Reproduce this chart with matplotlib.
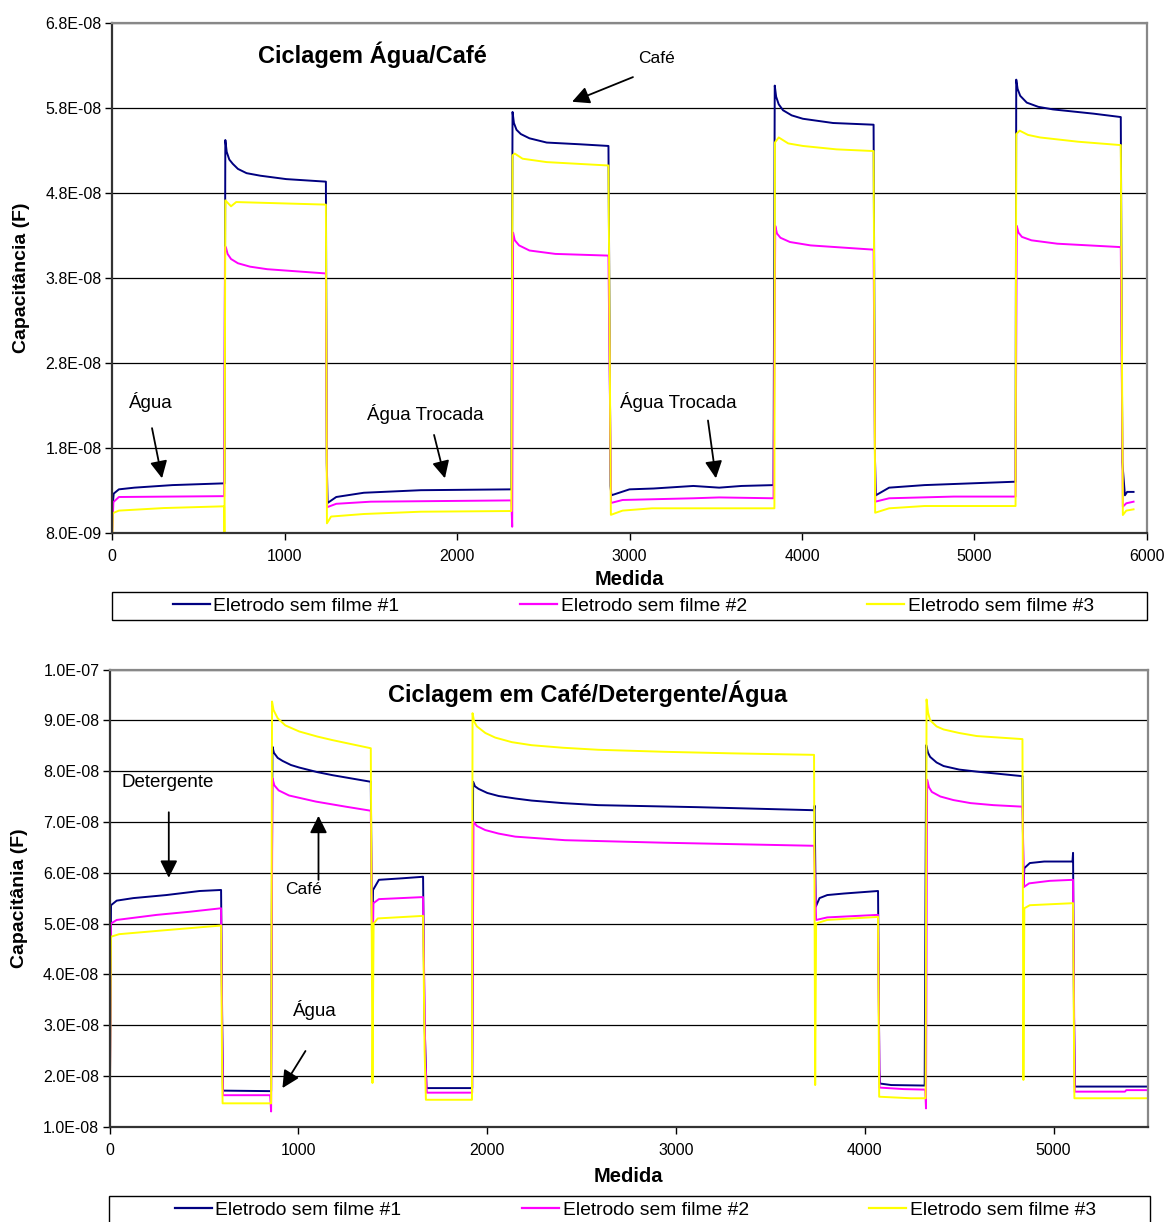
import matplotlib
matplotlib.use("Agg")
import matplotlib.pyplot as plt
from matplotlib.patches import Rectangle
from matplotlib.lines import Line2D
from matplotlib.ticker import FuncFormatter, MultipleLocator
import numpy as np

plt.rcParams['font.family'] = ['Liberation Sans', 'DejaVu Sans']

# ---------------- DATA (values in units of 1e-8 F) ----------------
series_labels = ["Eletrodo sem filme #1", "Eletrodo sem filme #2", "Eletrodo sem filme #3"]
series_colors = ["#000080", "#FF00FF", "#FFFF00"]

# Top panel: Ciclagem Água/Café
top_x1 = [0, 10, 40, 130, 350, 640, 652,
          657, 665, 680, 700, 730, 780, 860, 1010, 1240,
          1245, 1250, 1300, 1460, 1790, 2315,
          2322, 2330, 2345, 2370, 2420, 2520, 2710, 2878,
          2890, 2895, 3000, 3140, 3370, 3520, 3650, 3835,
          3842, 3850, 3865, 3890, 3940, 4005, 4180, 4415,
          4423, 4428, 4505, 4710, 5238,
          5242, 5250, 5265, 5303, 5370, 5455, 5690, 5848,
          5857, 5872, 5885, 5922]
top_y1 = [1.05, 1.26, 1.31, 1.33, 1.36, 1.38, 1.38,
          5.42, 5.28, 5.19, 5.14, 5.08, 5.03, 5.00, 4.96, 4.93,
          1.62, 1.15, 1.22, 1.27, 1.30, 1.31,
          5.75, 5.62, 5.54, 5.49, 5.44, 5.39, 5.37, 5.35,
          1.35, 1.24, 1.31, 1.32, 1.35, 1.33, 1.35, 1.36,
          6.06, 5.93, 5.84, 5.77, 5.71, 5.67, 5.62, 5.60,
          1.67, 1.24, 1.33, 1.36, 1.40,
          6.13, 6.02, 5.94, 5.86, 5.81, 5.78, 5.73, 5.69,
          1.63, 1.24, 1.28, 1.28]

top_x2 = [0, 8, 40, 650,
          655, 660, 670, 690, 730, 800, 900, 1240,
          1247, 1300, 1500, 2315, 2320,
          2325, 2335, 2360, 2420, 2570, 2878,
          2893, 2960, 3370, 3520, 3835,
          3845, 3855, 3875, 3930, 4050, 4415,
          4425, 4505, 4880, 5238,
          5245, 5255, 5275, 5330, 5480, 5848,
          5860, 5880, 5922]
top_y2 = [0.75, 1.16, 1.22, 1.23,
          4.16, 4.16, 4.08, 4.02, 3.97, 3.93, 3.90, 3.85,
          1.10, 1.14, 1.165, 1.18, 0.87,
          4.33, 4.24, 4.18, 4.12, 4.08, 4.06,
          1.15, 1.185, 1.205, 1.215, 1.205,
          4.41, 4.32, 4.27, 4.22, 4.18, 4.13,
          1.165, 1.205, 1.225, 1.225,
          4.41, 4.33, 4.28, 4.24, 4.20, 4.16,
          1.106, 1.146, 1.165]

top_x3 = [0, 5, 40, 300, 640, 650, 652,
          657, 690, 720, 1240,
          1246, 1270, 1460, 1790, 2315,
          2322, 2335, 2380, 2520, 2878,
          2892, 2960, 3130, 3840,
          3843, 3865, 3920, 4005, 4200, 4415,
          4424, 4505, 4710, 5238,
          5242, 5262, 5310, 5380, 5600, 5848,
          5860, 5880, 5922]
top_y3 = [0.60, 1.03, 1.06, 1.09, 1.11, 1.11, 0.70,
          4.71, 4.64, 4.69, 4.66,
          0.91, 0.99, 1.02, 1.047, 1.055,
          5.24, 5.26, 5.20, 5.16, 5.12,
          1.01, 1.06, 1.087, 1.087,
          5.39, 5.45, 5.38, 5.35, 5.31, 5.29,
          1.035, 1.087, 1.114, 1.114,
          5.49, 5.53, 5.48, 5.45, 5.40, 5.36,
          1.008, 1.06, 1.075]

# Bottom panel: Ciclagem em Café/Detergente/Água
bot_x1 = [0, 7, 37, 125, 300, 477, 590, 596, 600, 855,
          862, 870, 890, 916, 960, 1004, 1100, 1180, 1383,
          1390, 1395, 1426, 1550, 1660,
          1667, 1672, 1678, 1920,
          1925, 1935, 1954, 2000, 2060, 2150, 2235, 2400, 2587, 3115, 3731, 3734,
          3740, 3760, 3801, 3889, 4070,
          4077, 4080, 4140, 4317,
          4325, 4335, 4346, 4380, 4417, 4500, 4593, 4835,
          4840, 4845, 4874, 4950, 5100, 5103,
          5108, 5113, 5500]
bot_y1 = [1.0, 5.36, 5.45, 5.50, 5.56, 5.64, 5.66, 3.00, 1.71, 1.70,
          8.48, 8.36, 8.26, 8.20, 8.12, 8.07, 7.98, 7.92, 7.79,
          4.50, 5.66, 5.86, 5.89, 5.92,
          3.17, 2.51, 1.76, 1.76,
          7.79, 7.70, 7.65, 7.57, 7.51, 7.46, 7.42, 7.37, 7.33, 7.29, 7.23, 7.32,
          5.33, 5.50, 5.56, 5.59, 5.64,
          2.12, 1.85, 1.82, 1.81,
          8.51, 8.36, 8.28, 8.17, 8.10, 8.03, 7.99, 7.90,
          5.72, 6.09, 6.19, 6.22, 6.22, 6.39,
          3.20, 1.79, 1.79]

bot_x2 = [0, 7, 37, 250, 420, 590, 596, 600, 850, 855,
          862, 872, 895, 950, 1092, 1250, 1383,
          1392, 1397, 1426, 1660,
          1672, 1680, 1920,
          1927, 1945, 1989, 2060, 2148, 2412, 2939, 3731,
          3742, 3801, 4070,
          4078, 4207, 4320, 4324,
          4330, 4340, 4355, 4400, 4469, 4560, 4681, 4835,
          4843, 4870, 4980, 5103,
          5112, 5378, 5385, 5500]
bot_y2 = [1.0, 5.00, 5.07, 5.17, 5.23, 5.30, 2.80, 1.62, 1.62, 1.30,
          7.86, 7.72, 7.62, 7.52, 7.40, 7.30, 7.22,
          4.22, 5.40, 5.48, 5.52,
          2.30, 1.67, 1.67,
          7.00, 6.92, 6.84, 6.77, 6.71, 6.64, 6.59, 6.53,
          5.07, 5.12, 5.17,
          1.77, 1.74, 1.73, 1.36,
          7.83, 7.68, 7.59, 7.50, 7.43, 7.37, 7.33, 7.30,
          5.72, 5.79, 5.84, 5.86,
          1.69, 1.69, 1.72, 1.72]

bot_x3 = [0, 7, 50, 300, 590, 595, 598, 855,
          860, 868, 890, 930, 1004, 1100, 1180, 1383,
          1392, 1398, 1420, 1660,
          1668, 1675, 1919,
          1922, 1930, 1945, 1990, 2042, 2130, 2235, 2400, 2587, 2939, 3291, 3731,
          3737, 3742, 3801, 4070,
          4076, 4244, 4322,
          4327, 4335, 4346, 4380, 4417, 4500, 4593, 4835,
          4840, 4845, 4874, 5103,
          5110, 5500]
bot_y3 = [1.0, 4.74, 4.79, 4.87, 4.96, 2.30, 1.46, 1.46,
          9.37, 9.20, 9.04, 8.90, 8.78, 8.68, 8.61, 8.45,
          1.86, 5.00, 5.10, 5.15,
          2.50, 1.53, 1.53,
          9.14, 8.98, 8.88, 8.75, 8.66, 8.57, 8.51, 8.46, 8.42, 8.38, 8.35, 8.32,
          1.82, 5.00, 5.07, 5.13,
          1.59, 1.56, 1.56,
          9.41, 9.15, 9.00, 8.88, 8.82, 8.75, 8.69, 8.63,
          1.92, 5.30, 5.36, 5.40,
          1.56, 1.56]

top_title = "Ciclagem Água/Café"
bot_title = "Ciclagem em Café/Detergente/Água"
top_ylabel = "Capacitância (F)"
bot_ylabel = "Capacitânia (F)"
xlabel = "Medida"

# ---------------- FIGURE ----------------
W, H = 1166, 1222
fig = plt.figure(figsize=(W / 100, H / 100), dpi=100)

def fx(px):
    return px / W

def fy(py):
    return 1 - py / H

ax1 = fig.add_axes([fx(112), fy(532.7), fx(1147) - fx(112), fy(22.7) - fy(532.7)])
ax2 = fig.add_axes([fx(109.7), fy(1126.7), fx(1148) - fx(109.7), fy(669.5) - fy(1126.7)])

E8 = 1e-8
sci = FuncFormatter(lambda v, p: format(v, '.1E'))

def style(ax, ymin, ymax, xmax):
    ax.set_ylim(ymin, ymax)
    ax.set_xlim(0, xmax)
    ax.yaxis.set_major_locator(MultipleLocator(1e-8))
    ax.yaxis.set_major_formatter(sci)
    ax.xaxis.set_major_locator(MultipleLocator(1000))
    ax.grid(axis='y', color='black', lw=0.9)
    ax.set_axisbelow(True)
    for s in ['left', 'bottom']:
        ax.spines[s].set_color('#333333')
        ax.spines[s].set_linewidth(1.6)
    for s in ['top', 'right']:
        ax.spines[s].set_color('#888888')
        ax.spines[s].set_linewidth(1.6)
    ax.tick_params(axis='both', direction='out', length=5, width=1, labelsize=11.5)
    ax.tick_params(axis='x', pad=7)
    ax.tick_params(axis='y', pad=2.5)

style(ax1, 0.8 * E8, 6.8 * E8 + 1e-12, 6000)
ax1.set_yticks([(0.8 + k) * E8 for k in range(7)])
style(ax2, 1.0 * E8, 10.0 * E8 + 1e-12, 5500)

lw = 1.4
for xs, ys, c in [(top_x1, top_y1, series_colors[0]), (top_x2, top_y2, series_colors[1]), (top_x3, top_y3, series_colors[2])]:
    ax1.plot(xs, np.array(ys) * E8, color=c, lw=lw)
for xs, ys, c in [(bot_x1, bot_y1, series_colors[0]), (bot_x2, bot_y2, series_colors[1]), (bot_x3, bot_y3, series_colors[2])]:
    ax2.plot(xs, np.array(ys) * E8, color=c, lw=lw)

# labels
for ax, yl, yx, xy in [(ax1, top_ylabel, -0.079, -0.073), (ax2, bot_ylabel, -0.0787, -0.088)]:
    ax.set_ylabel(yl, fontsize=14, fontweight='bold')
    ax.yaxis.set_label_coords(yx, 0.5)
    ax.set_xlabel(xlabel, fontsize=14.5, fontweight='bold')
    ax.xaxis.set_label_coords(0.5, xy)

# titles
ax1.text(1507, 6.42 * E8, top_title, fontsize=17, fontweight='bold', ha='center', va='center')
ax2.text(2529, 9.52 * E8, bot_title, fontsize=17, fontweight='bold', ha='center', va='center')

arrow = dict(arrowstyle='-|>', mutation_scale=26, lw=1.3, color='black', shrinkA=0, shrinkB=0)

# top annotations
ax1.text(3154, 6.38 * E8, "Café", fontsize=12.5, ha='center', va='center')
ax1.annotate("", xy=(2667, 5.87 * E8), xytext=(3020, 6.16 * E8), arrowprops=arrow)
ax1.text(226, 2.34 * E8, "Água", fontsize=13.5, ha='center', va='center')
ax1.annotate("", xy=(290, 1.44 * E8), xytext=(232, 2.03 * E8), arrowprops=arrow)
ax1.text(1814, 2.20 * E8, "Água Trocada", fontsize=13.5, ha='center', va='center')
ax1.annotate("", xy=(1930, 1.44 * E8), xytext=(1867, 1.95 * E8), arrowprops=arrow)
ax1.text(3281, 2.34 * E8, "Água Trocada", fontsize=13.5, ha='center', va='center')
ax1.annotate("", xy=(3501, 1.44 * E8), xytext=(3455, 2.12 * E8), arrowprops=arrow)

# bottom annotations
ax2.text(308, 7.77 * E8, "Detergente", fontsize=13.5, ha='center', va='center')
ax2.annotate("", xy=(313, 5.90 * E8), xytext=(313, 7.19 * E8), arrowprops=arrow)
ax2.text(1025, 5.66 * E8, "Café", fontsize=12.5, ha='center', va='center')
ax2.annotate("", xy=(1106, 7.12 * E8), xytext=(1106, 5.86 * E8), arrowprops=arrow)
ax2.text(1089, 3.30 * E8, "Água", fontsize=13.5, ha='center', va='center')
ax2.annotate("", xy=(915, 1.76 * E8), xytext=(1037, 2.49 * E8), arrowprops=arrow)

# legends with boxes
handles = [Line2D([], [], color=c, lw=1.6) for c in series_colors]
for (x0, x1, y0, y1, hx) in [(112, 1147, 592, 620, 173), (109, 1150, 1196, 1224, 175)]:
    fig.patches.append(Rectangle((fx(x0), fy(y1)), fx(x1) - fx(x0), fy(y0) - fy(y1),
                                 transform=fig.transFigure, fill=False, ec='black', lw=1.0))
    fig.legend(handles, series_labels, loc='center left', bbox_to_anchor=(fx(hx), fy((y0 + y1) / 2)),
               ncol=3, frameon=False, fontsize=13.85, handlelength=1.9, handletextpad=0.2,
               columnspacing=6.27, borderpad=0, borderaxespad=0)

fig.savefig("out.png", dpi=100)
